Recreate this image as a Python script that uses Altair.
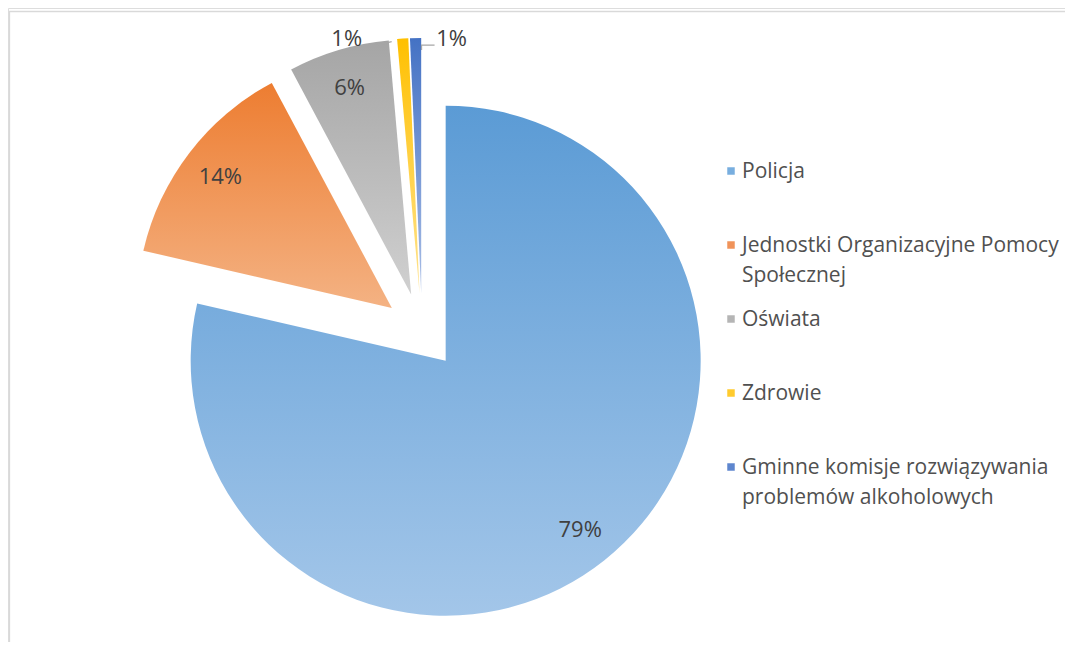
import altair as alt
import pandas as pd

# ---- data ----
categories = [
    "Policja",
    "Jednostki Organizacyjne Pomocy Społecznej",
    "Oświata",
    "Zdrowie",
    "Gminne komisje rozwiązywania problemów alkoholowych",
]
legend_labels = [
    "Policja",
    "Jednostki Organizacyjne Pomocy\nSpołecznej",
    "Oświata",
    "Zdrowie",
    "Gminne komisje rozwiązywania\nproblemów alkoholowych",
]
shares = [78.6, 13.6, 6.4, 0.7, 0.7]

# ---- styles ----
colors_top = ["#5B9BD5", "#ED7D31", "#A5A5A5", "#FFC000", "#4472C4"]
colors_bottom = ["#A3C6E9", "#F4B283", "#D0D0D0", "#FFE38F", "#A9BEE6"]
colors_legend = ["#78AEDF", "#F0935A", "#B5B5B5", "#FFCB2E", "#5E86CE"]

W, H = 1057, 634
CX, CY = 414, 323
R = 255
EXPLODE = 38
LABEL_R = 216
FONT = "Open Sans"

df = pd.DataFrame({
    "category": categories,
    "legend": legend_labels,
    "share": shares,
    "idx": list(range(len(categories))),
})

base = (
    alt.Chart(df)
    .transform_window(cum="sum(share)", sort=[alt.SortField("idx")])
    .transform_joinaggregate(total="sum(share)")
    .transform_calculate(
        a0="2*PI*(datum.cum - datum.share)/datum.total",
        a1="2*PI*datum.cum/datum.total",
    )
    .transform_calculate(mid="(datum.a0 + datum.a1)/2")
    .transform_calculate(
        cx=f"{CX} + {EXPLODE}*sin(datum.mid)",
        cy=f"{CY} - {EXPLODE}*cos(datum.mid)",
        pct="round(100*datum.share/datum.total) + '%'",
        small="datum.share/datum.total < 0.02",
    )
    .transform_calculate(
        tipx=f"datum.cx + {R}*sin(datum.mid)",
        tipy=f"datum.cy - {R}*cos(datum.mid)",
    )
    .transform_calculate(
        left="datum.idx % 2 == 1",
    )
    .transform_calculate(
        lx=f"datum.small ? (datum.left ? datum.tipx - 56 : datum.tipx + 36) : datum.cx + {LABEL_R}*sin(datum.mid)",
        ly=f"datum.small ? (datum.left ? datum.tipy : datum.tipy + 1) : datum.cy - {LABEL_R}*cos(datum.mid)",
    )
)

xpos = alt.X("cx:Q", scale=None, axis=None)
ypos = alt.Y("cy:Q", scale=None, axis=None)

arcs = []
for i, cat in enumerate(categories):
    grad = alt.LinearGradient(
        gradient="linear",
        stops=[
            alt.GradientStop(color=colors_top[i], offset=0),
            alt.GradientStop(color=colors_bottom[i], offset=1),
        ],
        x1=0, x2=0, y1=0, y2=1,
    )
    arcs.append(
        base.transform_filter(f"datum.idx == {i}")
        .mark_arc(radius=R, fill=grad)
        .encode(
            theta=alt.Theta("a0:Q", scale=None),
            theta2="a1:Q",
            x=xpos,
            y=ypos,
        )
    )

labels = base.mark_text(
    font=FONT, fontSize=22, color="#404040", align="center", baseline="middle"
).encode(
    x=alt.X("lx:Q", scale=None, axis=None),
    y=alt.Y("ly:Q", scale=None, axis=None),
    text="pct:N",
)

leaders = (
    base.transform_filter("datum.small")
    .transform_calculate(
        px="datum.left ? [datum.lx + 19, datum.lx + 29, datum.lx + 45] : [datum.lx - 30, datum.lx - 30, datum.lx - 17]",
        py="datum.left ? [datum.ly + 7, datum.ly + 7, datum.ly + 3] : [datum.ly + 11, datum.ly + 6, datum.ly + 6]",
        pi="[0, 1, 2]",
    )
    .transform_flatten(["px", "py", "pi"])
    .mark_line(color="#A6A6A6", strokeWidth=1.2)
    .encode(
        x=alt.X("px:Q", scale=None, axis=None),
        y=alt.Y("py:Q", scale=None, axis=None),
        detail="category:N",
        order="pi:Q",
    )
)

# ---- legend (right side) ----
LEG_X, LEG_Y0, LEG_STEP = 723, 163, 74
leg_base = alt.Chart(df).transform_calculate(ly=f"{LEG_Y0} + datum.idx*{LEG_STEP}")
leg_sym = leg_base.mark_square(size=56, opacity=1).encode(
    x=alt.value(LEG_X),
    y=alt.Y("ly:Q", scale=None, axis=None),
    color=alt.Color("category:N", scale=alt.Scale(domain=categories, range=colors_legend), legend=None),
)
leg_txt = leg_base.mark_text(
    font=FONT, fontSize=21, color="#505050", align="left", baseline="alphabetic",
    dy=7, lineBreak="\n", lineHeight=30,
).encode(
    x=alt.value(LEG_X + 11),
    y=alt.Y("ly:Q", scale=None, axis=None),
    text="legend:N",
)

# ---- chart frame lines ----
frame_df = pd.DataFrame({"k": [0]})
top_line = alt.Chart(frame_df).mark_rule(color="#D9D9D9", strokeWidth=1.3).encode(
    x=alt.value(1), x2=alt.value(W), y=alt.value(3.5)
)
left_line = alt.Chart(frame_df).mark_rule(color="#D9D9D9", strokeWidth=1.3).encode(
    x=alt.value(1.5), y=alt.value(3), y2=alt.value(H)
)

chart = (
    alt.layer(top_line, left_line, *arcs, leaders, labels, leg_sym, leg_txt)
    .properties(width=W, height=H, padding=0, autosize=alt.AutoSizeParams(type="none"))
    .configure_view(stroke=None)
    .configure(background="white")
)

chart.save("out.html", embed_options={"renderer": "svg", "actions": False})
